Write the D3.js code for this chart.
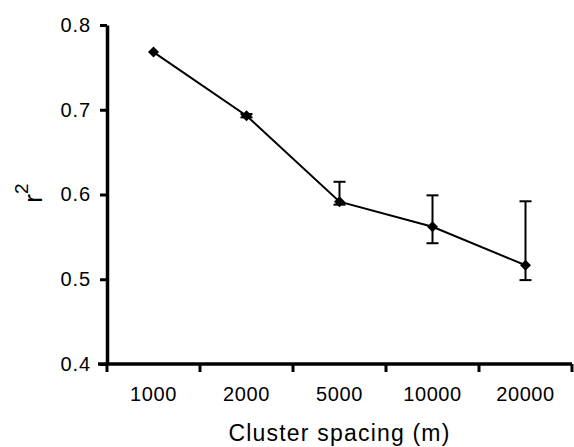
<!DOCTYPE html>
<html>
<head>
<meta charset="utf-8">
<script src="https://cdn.jsdelivr.net/npm/d3@7"></script>
<style>
  body { margin: 0; background: #fff; }
  text { font-family: "Liberation Sans", Arial, sans-serif; fill: #000; }
</style>
</head>
<body>
<div id="chart"></div>
<script>
// values
var spacings = ["1000", "2000", "5000", "10000", "20000"];
var r2 = [0.768, 0.693, 0.5915, 0.562, 0.5165];
var errUpper = [0.768, 0.695, 0.615, 0.599, 0.592];
var errLower = [0.768, 0.691, 0.588, 0.5425, 0.499];
var yTicks = [0.4, 0.5, 0.6, 0.7, 0.8];

var data = spacings.map(function (s, i) {
  return { s: s, v: r2[i], hi: errUpper[i], lo: errLower[i] };
});

var margin = { top: 25, right: 2, bottom: 83, left: 107 },
  width = 574 - margin.left - margin.right,
  height = 447 - margin.top - margin.bottom;

var svg = d3.select("#chart")
  .append("svg")
  .attr("width", 574)
  .attr("height", 447)
  .append("g")
  .attr("transform", "translate(" + margin.left + "," + margin.top + ")");

var x = d3.scaleBand()
  .domain(spacings)
  .range([0, width]);

var y = d3.scaleLinear()
  .domain([0.4, 0.8])
  .range([height, 0]);

// y axis
var yAxis = svg.append("g")
  .call(d3.axisLeft(y).tickValues(yTicks).tickFormat(d3.format(".1f"))
    .tickSize(7).tickSizeOuter(0).tickPadding(9));
yAxis.select(".domain").attr("stroke-width", 3.5);
yAxis.selectAll(".tick line").attr("stroke-width", 3);
yAxis.selectAll("text").style("font-size", "20px").style("letter-spacing", "0.9px");

// x axis: labels centred in the bands, ticks on the band edges
var xAxis = svg.append("g")
  .attr("transform", "translate(0," + height + ")")
  .call(d3.axisBottom(x).tickSize(0).tickSizeOuter(0).tickPadding(23));
xAxis.select(".domain").attr("stroke-width", 3.5)
  .attr("d", "M-9,0H" + width);
xAxis.selectAll("text").style("font-size", "20px").style("letter-spacing", "0.6px");

svg.append("g")
  .selectAll("line")
  .data([spacings[0]].concat(spacings))
  .enter()
  .append("line")
  .attr("x1", function (d, i) { return i == 0 ? x(d) : x(d) + x.bandwidth(); })
  .attr("x2", function (d, i) { return i == 0 ? x(d) : x(d) + x.bandwidth(); })
  .attr("y1", height)
  .attr("y2", height + 8)
  .attr("stroke", "#000")
  .attr("stroke-width", 3);

var cx = function (d) { return x(d.s) + x.bandwidth() / 2; };

// error bars
var eb = svg.append("g").selectAll("g")
  .data(data.filter(function (d) { return d.hi - d.lo > 0.001; }))
  .enter()
  .append("g")
  .attr("stroke", "#000")
  .attr("stroke-width", 2);
eb.append("line")
  .attr("x1", cx).attr("x2", cx)
  .attr("y1", function (d) { return y(d.hi); })
  .attr("y2", function (d) { return y(d.lo); });
eb.append("line")
  .attr("x1", function (d) { return cx(d) - 6; })
  .attr("x2", function (d) { return cx(d) + 6; })
  .attr("y1", function (d) { return y(d.hi); })
  .attr("y2", function (d) { return y(d.hi); });
eb.append("line")
  .attr("x1", function (d) { return cx(d) - 6; })
  .attr("x2", function (d) { return cx(d) + 6; })
  .attr("y1", function (d) { return y(d.lo); })
  .attr("y2", function (d) { return y(d.lo); });

// line
svg.append("path")
  .datum(data)
  .attr("fill", "none")
  .attr("stroke", "#000")
  .attr("stroke-width", 2)
  .attr("d", d3.line()
    .x(cx)
    .y(function (d) { return y(d.v); }));

// diamond markers
svg.append("g")
  .selectAll("path")
  .data(data)
  .enter()
  .append("path")
  .attr("transform", function (d) { return "translate(" + cx(d) + "," + y(d.v) + ")"; })
  .attr("d", "M0,-5.5L5.5,0L0,5.5L-5.5,0Z")
  .attr("fill", "#000");

// axis titles
svg.append("text")
  .attr("x", width / 2)
  .attr("y", 416)
  .attr("text-anchor", "middle")
  .style("font-size", "23px")
  .style("letter-spacing", "1.2px")
  .text("Cluster spacing (m)");

var yl = svg.append("text")
  .attr("transform", "translate(" + (42 - margin.left) + "," + (193 - margin.top) + ") rotate(-90)")
  .attr("text-anchor", "middle")
  .style("font-size", "26px");
yl.append("tspan").text("r");
yl.append("tspan").attr("dy", -14).style("font-size", "19px").text("2");
</script>
</body>
</html>
